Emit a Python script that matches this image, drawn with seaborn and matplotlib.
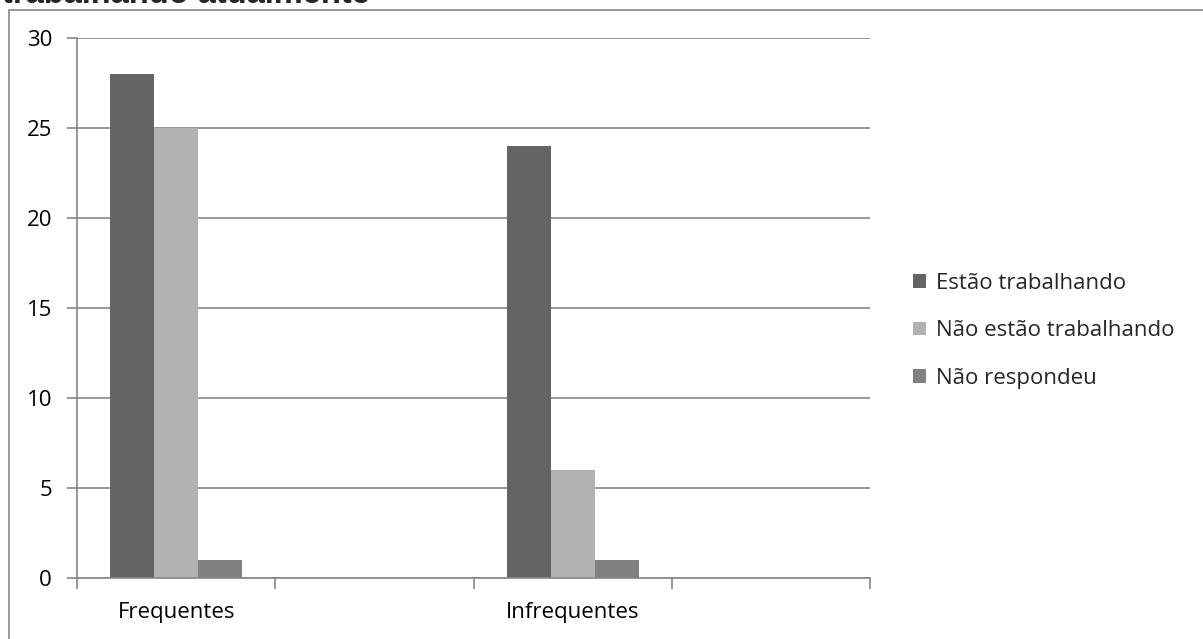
import matplotlib
matplotlib.use("Agg")
import matplotlib.pyplot as plt
import matplotlib.patches as mpatches
from matplotlib.ticker import FixedLocator
import seaborn as sns
import pandas as pd

# Data
groups = ["Frequentes", "Infrequentes"]
slots = ["Frequentes", " ", "Infrequentes", "  "]
series = ["Estão trabalhando", "Não estão trabalhando", "Não respondeu"]
estao = [28, 24]
nao_estao = [25, 6]
nao_resp = [1, 1]
colors = ["#646464", "#b2b2b2", "#808080"]

rows = []
for i, g in enumerate(groups):
    for s, vals in zip(series, [estao, nao_estao, nao_resp]):
        rows.append({"grupo": g, "situacao": s, "valor": vals[i]})
df = pd.DataFrame(rows)

sns.set_theme(style="white")
plt.rcParams["font.family"] = ["Open Sans", "DejaVu Sans"]

W, H = 1203, 639
FS = 16
fig = plt.figure(figsize=(W / 100, H / 100), dpi=100)
ax = fig.add_axes([77 / W, (H - 578) / H, (870 - 77) / W, (578 - 38) / H])

sns.barplot(data=df, x="grupo", y="valor", hue="situacao", order=slots,
            hue_order=series, palette=colors, width=0.667, gap=0,
            saturation=1, linewidth=0, ax=ax)

ax.set_xlim(-0.5, 3.5)
ax.set_ylim(0, 30)
ax.set_yticks([0, 5, 10, 15, 20, 25, 30])
ax.yaxis.grid(True, color="#868686", linewidth=1.2)
ax.set_axisbelow(True)

# Category boundaries carry the tick marks; names sit between them
ax.xaxis.set_major_locator(FixedLocator([-0.5, 0.5, 1.5, 2.5, 3.5]))
ax.set_xticklabels([""] * 5)
ax.xaxis.set_minor_locator(FixedLocator([0, 1, 2, 3]))
ax.set_xticklabels(["Frequentes", "", "Infrequentes", ""], minor=True)
ax.tick_params(axis="x", which="major", length=8, width=1.2, color="#868686",
               direction="out", bottom=True)
ax.tick_params(axis="x", which="minor", length=0, pad=17, labelsize=FS,
               labelcolor="black", bottom=True)
ax.tick_params(axis="y", length=7, width=1.2, color="#868686", direction="out",
               left=True, labelsize=FS, labelcolor="black", pad=11)

for side in ["top", "right"]:
    ax.spines[side].set_visible(False)
for side in ["left", "bottom"]:
    ax.spines[side].set_color("#868686")
    ax.spines[side].set_linewidth(1.2)
ax.set_xlabel("")
ax.set_ylabel("")

ax.legend(loc="upper left", bbox_to_anchor=(902 / W, (H - 262) / H),
          bbox_transform=fig.transFigure, frameon=False, fontsize=FS,
          handlelength=0.58, handleheight=0.58, handletextpad=0.45,
          labelspacing=1.18, borderpad=0)

# Outer chart frame
fig.add_artist(mpatches.Rectangle((9 / W, -0.01), 1.0, (H - 10) / H + 0.01,
                                  transform=fig.transFigure, fill=False,
                                  edgecolor="#888888", linewidth=1.2))

fig.text(2 / W, 1 - 3 / H, "trabalhando atualmente", fontsize=23.5,
         fontweight="bold", family="Liberation Sans", ha="left", va="baseline")

fig.savefig("out.png", dpi=100)
